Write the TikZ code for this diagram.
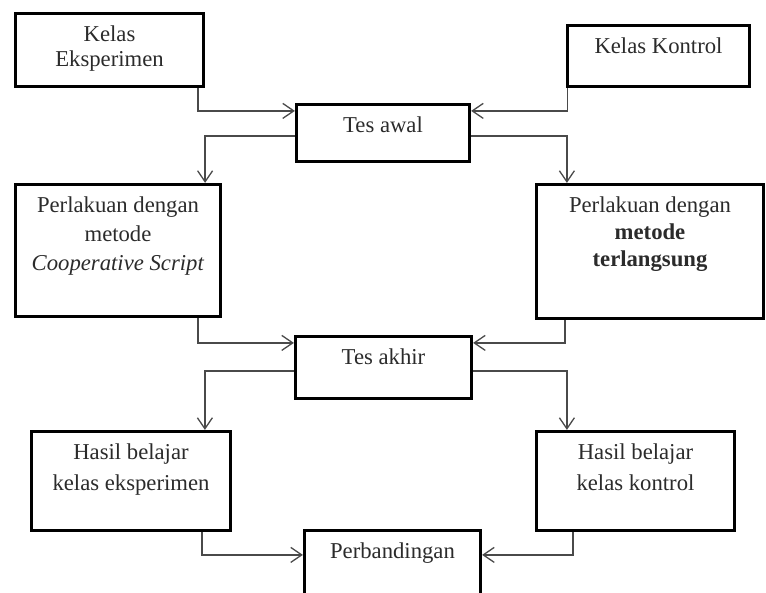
\documentclass[tikz,border=0pt]{standalone}
\usepackage{fontspec}
\setmainfont{Liberation Serif}
\usetikzlibrary{arrows.meta}
\definecolor{inkgray}{HTML}{2B2B2B}
\definecolor{linegray}{HTML}{4A4A4A}
% text block at the top of a box: width, height, line skip, lines
\newcommand{\boxtext}[4]{\parbox[c][#2pt][t]{#1pt}{\centering\fontsize{22.7}{#3}\selectfont\rule{0pt}{28pt}#4}}
\tikzset{
  stepbox/.style={draw=black, line width=3.2pt, inner sep=0pt, text=inkgray},
  flow/.style={->, draw=linegray, line width=1.3pt},
}
\begin{document}
\begin{tikzpicture}[x=1pt,y=-1pt, >={Straight Barb[length=11pt,width=15pt]}]
\useasboundingbox (0,0) rectangle (766,593);
% boxes
\node[stepbox] (ke) at (109.5,50) {\boxtext{188}{73}{25}{Kelas\\Eksperimen}};
\node[stepbox] (kk) at (658.5,56) {\boxtext{182}{61}{25}{Kelas Kontrol}};
\node[stepbox] (awal) at (383,133) {\boxtext{173}{57}{25}{Tes awal}};
\node[stepbox] (pl) at (118,250.5) {\boxtext{205}{132}{29}{Perlakuan dengan\\metode\\\textit{Cooperative Script}}};
\node[stepbox] (pr) at (650,251.5) {\boxtext{227}{134}{27}{Perlakuan dengan\\\textbf{metode}\\\textbf{terlangsung}}};
\node[stepbox] (akhir) at (383.5,367.5) {\boxtext{176}{62}{25}{Tes akhir}};
\node[stepbox] (he) at (131,481) {\boxtext{199}{99}{31}{Hasil belajar\\kelas eksperimen}};
\node[stepbox] (hk) at (635.5,481) {\boxtext{198}{99}{31}{Hasil belajar\\kelas kontrol}};
\node[stepbox] (pb) at (392.5,565) {\boxtext{176}{69}{25}{Perbandingan}};
% connectors
\draw[flow] ([xshift=-7pt]ke.south east) |- ([yshift=-8pt]awal.north west);
\draw[flow] ([xshift=1.5pt]kk.south west) |- ([yshift=-8pt]awal.north east);
\draw[flow] ([yshift=-3pt]awal.west) -| ([xshift=-17pt]pl.north east);
\draw[flow] ([yshift=-3pt]awal.east) -| ([xshift=32pt]pr.north west);
\draw[flow] ([xshift=-24pt]pl.south east) |- ([yshift=-8pt]akhir.north west);
\draw[flow] ([xshift=30pt]pr.south west) |- ([yshift=-8pt]akhir.north east);
\draw[flow] ([yshift=-3.5pt]akhir.west) -| ([xshift=175pt]he.north west);
\draw[flow] ([yshift=-3.5pt]akhir.east) -| ([xshift=32pt]hk.north west);
\draw[flow] ([xshift=-30pt]he.south east) |- ([yshift=-26pt]pb.north west);
\draw[flow] ([xshift=38pt]hk.south west) |- ([yshift=-26pt]pb.north east);
\end{tikzpicture}
\end{document}
